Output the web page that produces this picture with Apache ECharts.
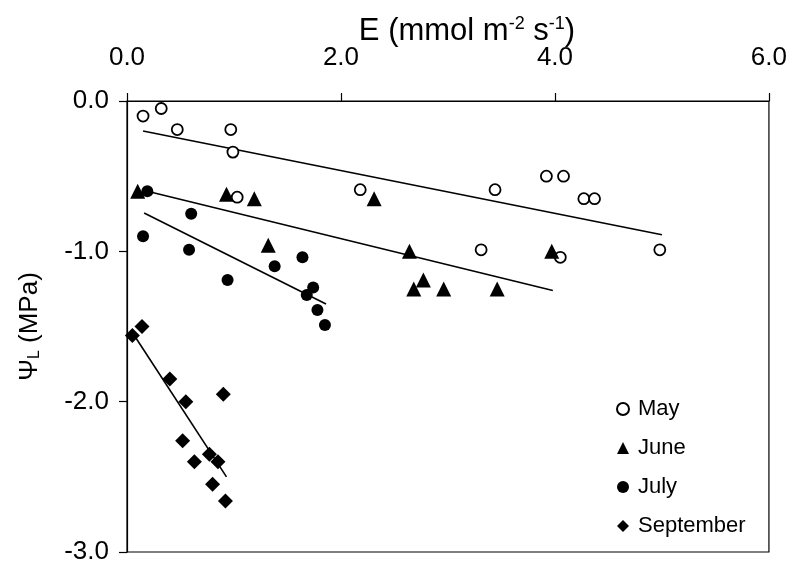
<!DOCTYPE html>
<html>
<head>
<meta charset="utf-8">
<script src="https://cdn.jsdelivr.net/npm/echarts@6/dist/echarts.min.js"></script>
<style>html,body{margin:0;padding:0;background:#fff}#c{width:790px;height:565px}</style>
</head>
<body>
<div id="c"></div>
<script>
// Data
const seriesNames = ['May', 'June', 'July', 'September'];
const mayE = [0.15, 0.32, 0.47, 0.97, 0.99, 1.03, 2.18, 3.44, 3.92, 4.08, 4.27, 4.37, 3.31, 4.05, 4.98];
const mayPsi = [-0.10, -0.05, -0.19, -0.19, -0.34, -0.64, -0.59, -0.59, -0.50, -0.50, -0.65, -0.65, -0.99, -1.04, -0.99];
const juneE = [0.10, 0.93, 1.19, 1.32, 2.31, 2.64, 2.77, 2.68, 2.96, 3.46, 3.97];
const junePsi = [-0.60, -0.62, -0.65, -0.96, -0.65, -1.00, -1.19, -1.25, -1.25, -1.25, -1.00];
const julyE = [0.19, 0.60, 0.15, 0.58, 0.94, 1.38, 1.64, 1.74, 1.68, 1.78, 1.85];
const julyPsi = [-0.60, -0.75, -0.90, -0.99, -1.19, -1.10, -1.04, -1.24, -1.29, -1.39, -1.49];
const sepE = [0.05, 0.14, 0.40, 0.55, 0.90, 0.52, 0.63, 0.77, 0.85, 0.80, 0.92];
const sepPsi = [-1.56, -1.50, -1.85, -2.00, -1.95, -2.26, -2.40, -2.35, -2.40, -2.55, -2.66];
// Regression line end points
const mayFitE = [0.15, 5.00], mayFitPsi = [-0.20, -0.89];
const juneFitE = [0.19, 3.98], juneFitPsi = [-0.60, -1.26];
const julyFitE = [0.16, 1.86], julyFitPsi = [-0.745, -1.35];
const sepFitE = [0.05, 0.93], sepFitPsi = [-1.54, -2.50];
// Axis ticks
const xTicks = [0, 2, 4, 6];
const yTicks = [-3, -2, -1, 0];

const zip = (a, b) => a.map((v, i) => [v, b[i]]);
const FONT = '"Liberation Sans", Arial, sans-serif';

const scatterStyles = {
  'May': {symbol: 'circle', size: 11, itemStyle: {color: '#fff', borderColor: '#000', borderWidth: 1.8, opacity: 1}},
  'June': {symbol: 'triangle', size: 15, itemStyle: {color: '#000', opacity: 1}},
  'July': {symbol: 'circle', size: 12, itemStyle: {color: '#000', opacity: 1}},
  'September': {symbol: 'diamond', size: 15, itemStyle: {color: '#000', opacity: 1}}
};
const pts = {
  'May': zip(mayE, mayPsi), 'June': zip(juneE, junePsi),
  'July': zip(julyE, julyPsi), 'September': zip(sepE, sepPsi)
};
const fits = [zip(mayFitE, mayFitPsi), zip(juneFitE, juneFitPsi), zip(julyFitE, julyFitPsi), zip(sepFitE, sepFitPsi)];

const series = [];
fits.forEach((d, i) => series.push({
  type: 'line', data: d, symbol: 'none', silent: true, z: 1,
  lineStyle: {color: '#000', width: 1.6}
}));
seriesNames.forEach(n => series.push({
  name: n, type: 'scatter', data: pts[n], symbol: scatterStyles[n].symbol,
  symbolSize: scatterStyles[n].size, itemStyle: scatterStyles[n].itemStyle, z: 3,
  emphasis: {disabled: true}
}));

const chart = echarts.init(document.getElementById('c'), null, {renderer: 'canvas'});
chart.setOption({
  animation: false,
  backgroundColor: '#fff',
  grid: {left: 127, right: 20, top: 101, bottom: 12, show: true, borderColor: '#000', borderWidth: 1.2, backgroundColor: 'transparent'},
  xAxis: {
    type: 'value', position: 'top', min: xTicks[0], max: xTicks[xTicks.length - 1], interval: 2,
    axisLine: {show: true, lineStyle: {color: '#000', width: 1.2}},
    axisTick: {show: true, inside: false, length: 8, lineStyle: {color: '#000', width: 1.2}},
    axisLabel: {margin: 30, color: '#000', fontFamily: FONT, fontSize: 26, formatter: v => v.toFixed(1)},
    splitLine: {show: false}
  },
  yAxis: {
    type: 'value', min: yTicks[0], max: yTicks[yTicks.length - 1], interval: 1,
    name: 'Ψ{sub|L} (MPa)', nameLocation: 'middle', nameGap: 84, nameRotate: 90,
    nameTextStyle: {color: '#000', fontFamily: FONT, fontSize: 26,
      rich: {sub: {fontSize: 16, fontFamily: FONT, color: '#000', verticalAlign: 'bottom', padding: [10, 0, 0, 0]}}},
    axisLine: {show: true, lineStyle: {color: '#000', width: 1.2}},
    axisTick: {show: true, inside: false, length: 8, lineStyle: {color: '#000', width: 1.2}},
    axisLabel: {margin: 18, color: '#000', fontFamily: FONT, fontSize: 26, formatter: v => v.toFixed(1)},
    splitLine: {show: false}
  },
  legend: {
    data: seriesNames, orient: 'vertical', left: 616, top: 398, padding: 0,
    itemWidth: 12, itemHeight: 12, itemGap: 17,
    textStyle: {color: '#000', fontFamily: FONT, fontSize: 22, lineHeight: 22, padding: [0, 0, 0, 4]}
  },
  graphic: [{
    type: 'text', x: 467, y: 31,
    style: {
      text: 'E (mmol m{sup|-2} s{sup|-1})',
      fontFamily: FONT, fontSize: 31, fill: '#000', align: 'center', verticalAlign: 'middle',
      rich: {sup: {fontSize: 18, fontFamily: FONT, fill: '#000', verticalAlign: 'top', padding: [0, 0, 12, 0]}}
    }
  }],
  series: series
});
</script>
</body>
</html>
